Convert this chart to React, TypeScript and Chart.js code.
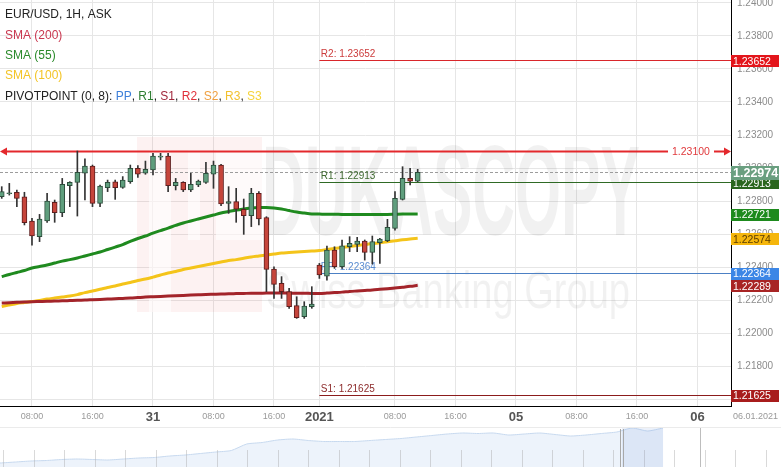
import React, { useEffect, useRef } from 'react';
import { Chart, registerables } from 'chart.js';

Chart.register(...registerables);

const FONT = '"Liberation Sans", Arial, Helvetica, sans-serif';

// ---------- data ----------
const TITLE = 'EUR/USD, 1H, ASK';
const FIRST_SLOT = -20; // hourly slot of first candle (slot 0 = 31 Dec 00:00)

const OPEN = [
  1.22826, 1.22845, 1.22853, 1.22826, 1.22679, 1.22584, 1.22679, 1.22792, 1.22729, 1.22893,
  1.22913, 1.22968, 1.23012, 1.22786, 1.22881, 1.22917, 1.22883, 1.22917, 1.22998, 1.22968,
  1.22988, 1.23065, 1.23073, 1.22893, 1.22913, 1.22867, 1.22897, 1.22913, 1.22962, 1.23018,
  1.22786, 1.22796, 1.22750, 1.22711, 1.22847, 1.22699, 1.22388, 1.22301, 1.22251, 1.22166,
  1.22099, 1.22160, 1.22412, 1.22345, 1.22503, 1.22402, 1.22523, 1.22537, 1.22558, 1.22489,
  1.22547, 1.22560, 1.22634, 1.22810, 1.22937, 1.22921,
];
const HIGH = [
  1.22887, 1.22907, 1.22867, 1.22853, 1.22695, 1.22719, 1.22846, 1.22806, 1.22937, 1.22917,
  1.23103, 1.23055, 1.23018, 1.22897, 1.22927, 1.22927, 1.22948, 1.23018, 1.23014, 1.23042,
  1.23089, 1.23089, 1.23089, 1.22937, 1.22917, 1.22968, 1.22927, 1.23034, 1.23042, 1.23022,
  1.22887, 1.22877, 1.22812, 1.22877, 1.22857, 1.22705, 1.22402, 1.22342, 1.22271, 1.22220,
  1.22190, 1.22281, 1.22422, 1.22527, 1.22523, 1.22564, 1.22584, 1.22580, 1.22564, 1.22588,
  1.22574, 1.22689, 1.22857, 1.23008, 1.22998, 1.22992,
];
const LOW = [
  1.22816, 1.22836, 1.22766, 1.22655, 1.22533, 1.22554, 1.22671, 1.22671, 1.22705, 1.22766,
  1.22709, 1.22806, 1.22766, 1.22766, 1.22857, 1.22810, 1.22877, 1.22907, 1.22943, 1.22962,
  1.22958, 1.23049, 1.22857, 1.22867, 1.22857, 1.22857, 1.22887, 1.22907, 1.22877, 1.22772,
  1.22725, 1.22671, 1.22598, 1.22645, 1.22655, 1.22251, 1.22210, 1.22210, 1.22150, 1.22089,
  1.22089, 1.22150, 1.22331, 1.22321, 1.22392, 1.22392, 1.22493, 1.22493, 1.22442, 1.22418,
  1.22422, 1.22554, 1.22624, 1.22806, 1.22897, 1.22917,
];
const CLOSE = [
  1.22857, 1.22849, 1.22816, 1.22669, 1.22588, 1.22691, 1.22800, 1.22729, 1.22901, 1.22913,
  1.22974, 1.23012, 1.22786, 1.22891, 1.22913, 1.22881, 1.22927, 1.22998, 1.22962, 1.22992,
  1.23073, 1.23073, 1.22893, 1.22913, 1.22867, 1.22901, 1.22921, 1.22968, 1.23018, 1.22782,
  1.22796, 1.22750, 1.22711, 1.22847, 1.22691, 1.22386, 1.22295, 1.22251, 1.22160, 1.22093,
  1.22164, 1.22176, 1.22352, 1.22503, 1.22402, 1.22529, 1.22543, 1.22558, 1.22489, 1.22554,
  1.22570, 1.22641, 1.22816, 1.22937, 1.22921, 1.22974,
];

const SMA55 = [
  1.22342, 1.22355, 1.22367, 1.22379, 1.22394, 1.22403, 1.22412, 1.22424, 1.22436, 1.22445,
  1.22455, 1.22467, 1.22479, 1.22491, 1.22506, 1.22521, 1.22536, 1.22555, 1.22573, 1.22588,
  1.22606, 1.22621, 1.22636, 1.22652, 1.22667, 1.22679, 1.22691, 1.22703, 1.22715, 1.22727,
  1.22736, 1.22745, 1.22752, 1.22758, 1.22760, 1.22760, 1.22758, 1.22752, 1.22742, 1.22733,
  1.22727, 1.22722, 1.22721, 1.22720, 1.22720, 1.22719, 1.22719, 1.22718, 1.22718, 1.22718,
  1.22719, 1.22719, 1.22720, 1.22721, 1.22721, 1.22721,
];
const SMA100 = [
  1.22161, 1.22170, 1.22179, 1.22185, 1.22191, 1.22197, 1.22206, 1.22212, 1.22218, 1.22224,
  1.22233, 1.22245, 1.22255, 1.22265, 1.22276, 1.22285, 1.22297, 1.22306, 1.22318, 1.22327,
  1.22339, 1.22352, 1.22364, 1.22373, 1.22385, 1.22394, 1.22403, 1.22412, 1.22421, 1.22430,
  1.22439, 1.22445, 1.22453, 1.22461, 1.22467, 1.22473, 1.22479, 1.22485, 1.22488, 1.22491,
  1.22494, 1.22497, 1.22500, 1.22506, 1.22512, 1.22518, 1.22524, 1.22530, 1.22536, 1.22542,
  1.22547, 1.22553, 1.22559, 1.22565, 1.22570, 1.22574,
];
const SMA200 = [
  1.22182, 1.22184, 1.22186, 1.22188, 1.22190, 1.22191, 1.22192, 1.22194, 1.22195, 1.22197,
  1.22199, 1.22200, 1.22202, 1.22204, 1.22206, 1.22208, 1.22210, 1.22212, 1.22215, 1.22218,
  1.22220, 1.22222, 1.22224, 1.22226, 1.22228, 1.22230, 1.22232, 1.22234, 1.22235, 1.22236,
  1.22238, 1.22239, 1.22240, 1.22241, 1.22241, 1.22242, 1.22242, 1.22242, 1.22242, 1.22241,
  1.22241, 1.22240, 1.22240, 1.22242, 1.22245, 1.22248, 1.22252, 1.22255, 1.22258, 1.22261,
  1.22265, 1.22269, 1.22273, 1.22278, 1.22283, 1.22289,
];

const PIVOT_NAMES = ['R2', 'R1', 'PP', 'S1'];
const PIVOT_VALUES = [1.23652, 1.22913, 1.22364, 1.21625];
const PIVOT_START_SLOT = 22;
const ALERT_LEVEL = 1.231;

const X_TICK_SLOTS = [-16, -8, 0, 8, 16, 22, 32, 40, 48, 56, 64, 72];
const X_TICK_LABELS = ['08:00', '16:00', '31', '08:00', '16:00', '2021', '08:00', '16:00', '05', '08:00', '16:00', '06'];
const Y_TICKS = [1.216, 1.218, 1.22, 1.222, 1.224, 1.226, 1.228, 1.23, 1.232, 1.234, 1.236, 1.238, 1.24];
const LAST_DATE_LABEL = '06.01.2021';

const NAV_PRICES = [
  1.1940, 1.1950, 1.1960, 1.1965, 1.1975, 1.1980, 1.1975, 1.1970, 1.1980, 1.1990,
  1.1995, 1.2010, 1.2020, 1.2035, 1.2050, 1.2065, 1.2130, 1.2145, 1.2170, 1.2180,
  1.2165, 1.2155, 1.2155, 1.2155, 1.2165, 1.2175, 1.2185, 1.2200, 1.2215, 1.2230,
  1.2240, 1.2235, 1.2240, 1.2220, 1.2230, 1.2240, 1.2225, 1.2210, 1.2220, 1.2235,
  1.2250, 1.2290, 1.2260, 1.2290,
];
const NAV_WINDOW = [40.34, 43];

// ---------- styling ----------
const X_MIN = -20.23;
const X_MAX = 76.43;
const Y_MIN = 1.21558;
const Y_MAX = 1.24018;
const NAV_X_MAX = 50.65;

const UP_FILL = '#5f9e7d';
const UP_EDGE = '#2d4d3c';
const DN_FILL = '#c6453b';
const DN_EDGE = '#5e1e1e';
const C_SMA200 = '#a3242a';
const C_SMA55 = '#1f8a1f';
const C_SMA100 = '#f4c41a';
const PIVOT_LINE = ['#d9262b', '#2f6a25', '#4c80c4', '#8c1c1c'];
const PIVOT_TEXT = ['#cc3b3b', '#3f6a30', '#5a8cd0', '#8c2a2a'];

function buildMain(canvas: HTMLCanvasElement) {
  const slots = OPEN.map((_, k) => FIRST_SLOT + k);
  const up = CLOSE.map((c, k) => c >= OPEN[k]);
  const bodies = slots.map((s, k) => ({ x: s, y: [OPEN[k], CLOSE[k]] }));
  const wicks = slots.map((s, k) => ({ x: s, y: [LOW[k], HIGH[k]] }));
  const line = (arr: number[]) => slots.map((s, k) => ({ x: s, y: arr[k] }));
  const lastClose = CLOSE[CLOSE.length - 1];

  const overlay = {
    id: 'dukaOverlay',
    beforeDatasetsDraw(chart: any) {
      const { ctx, chartArea: a } = chart;
      const xs = chart.scales.x;
      const ys = chart.scales.y;
      ctx.save();
      ctx.beginPath();
      ctx.rect(a.left, a.top, a.right - a.left, a.bottom - a.top);
      ctx.clip();

      // watermark
      ctx.fillStyle = 'rgba(225,70,70,0.07)';
      ctx.fillRect(137, 137, 125, 175);
      ctx.fillStyle = 'rgba(255,255,255,0.6)';
      ctx.fillRect(149, 150, 22, 162);
      ctx.fillRect(188, 150, 12, 90);
      ctx.fillRect(216, 150, 46, 90);
      ctx.fillStyle = 'rgba(0,0,0,0.055)';
      ctx.textAlign = 'left';
      ctx.textBaseline = 'alphabetic';
      ctx.font = `bold 128px ${FONT}`;
      ctx.fillText('DUKASCOPY', 262, 235, 378);
      ctx.font = `52px ${FONT}`;
      ctx.fillText('Swiss Banking Group', 266, 308, 364);

      // current price dashed line
      const py = Math.round(ys.getPixelForValue(lastClose)) + 0.5;
      ctx.strokeStyle = '#9c9c9c';
      ctx.lineWidth = 1;
      ctx.setLineDash([3, 2]);
      ctx.beginPath();
      ctx.moveTo(a.left, py);
      ctx.lineTo(a.right, py);
      ctx.stroke();
      ctx.setLineDash([]);

      // pivot lines
      const px0 = xs.getPixelForValue(PIVOT_START_SLOT);
      ctx.font = `10px ${FONT}`;
      ctx.textBaseline = 'bottom';
      PIVOT_VALUES.forEach((v, k) => {
        const yy = Math.round(ys.getPixelForValue(v)) + 0.5;
        ctx.strokeStyle = PIVOT_LINE[k];
        ctx.lineWidth = 1;
        ctx.beginPath();
        ctx.moveTo(px0, yy);
        ctx.lineTo(a.right, yy);
        ctx.stroke();
        ctx.fillStyle = PIVOT_TEXT[k];
        ctx.fillText(`${PIVOT_NAMES[k]}: ${v.toFixed(5)}`, px0 + 1.5, yy - 1);
      });

      // alert level line with arrows
      const ay = ys.getPixelForValue(ALERT_LEVEL);
      ctx.strokeStyle = '#e3282c';
      ctx.fillStyle = '#e3282c';
      ctx.lineWidth = 2;
      ctx.beginPath();
      ctx.moveTo(a.left + 5, ay);
      ctx.lineTo(668, ay);
      ctx.moveTo(714, ay);
      ctx.lineTo(a.right - 5, ay);
      ctx.stroke();
      ctx.beginPath();
      ctx.moveTo(a.left, ay);
      ctx.lineTo(a.left + 7, ay - 4);
      ctx.lineTo(a.left + 7, ay + 4);
      ctx.closePath();
      ctx.fill();
      ctx.beginPath();
      ctx.moveTo(a.right, ay);
      ctx.lineTo(a.right - 7, ay - 4);
      ctx.lineTo(a.right - 7, ay + 4);
      ctx.closePath();
      ctx.fill();
      ctx.font = `10.5px ${FONT}`;
      ctx.textBaseline = 'middle';
      ctx.fillStyle = '#e0393c';
      ctx.fillText(ALERT_LEVEL.toFixed(5), 672, ay + 0.5);
      ctx.restore();
    },
    afterDraw(chart: any) {
      const { ctx, chartArea: a } = chart;
      const ys = chart.scales.y;
      ctx.save();
      // legend
      ctx.textAlign = 'left';
      ctx.textBaseline = 'middle';
      ctx.font = `12px ${FONT}`;
      ctx.fillStyle = '#222';
      ctx.fillText(TITLE, 5, 15);
      ctx.fillStyle = '#c9374f';
      ctx.fillText('SMA (200)', 5, 36);
      ctx.fillStyle = '#2a8a2a';
      ctx.fillText('SMA (55)', 5, 56);
      ctx.fillStyle = '#f3c425';
      ctx.fillText('SMA (100)', 5, 76);
      const segs: [string, string][] = [
        ['PIVOTPOINT (0, 8): ', '#222'], ['PP', '#3d7fd9'], [', ', '#222'],
        ['R1', '#2e7d32'], [', ', '#222'], ['S1', '#a0283c'], [', ', '#222'],
        ['R2', '#e0303a'], [', ', '#222'], ['S2', '#f0a040'], [', ', '#222'],
        ['R3', '#f2c12e'], [', ', '#222'], ['S3', '#f5d33a'],
      ];
      let xx = 5;
      segs.forEach(([t, c]) => {
        ctx.fillStyle = c;
        ctx.fillText(t, xx, 97);
        xx += ctx.measureText(t).width;
      });

      // right axis value boxes
      const boxes = [
        { v: PIVOT_VALUES[0], bg: '#e3151b', fg: '#fff' },
        { v: PIVOT_VALUES[1], bg: '#2a661d', fg: '#fff' },
        { v: SMA55[SMA55.length - 1], bg: '#1d8a1d', fg: '#fff' },
        { v: SMA100[SMA100.length - 1], bg: '#f5b60c', fg: '#5a3c00' },
        { v: PIVOT_VALUES[2], bg: '#3b86e6', fg: '#fff' },
        { v: SMA200[SMA200.length - 1], bg: '#a82424', fg: '#fff' },
        { v: PIVOT_VALUES[3], bg: '#a81c1c', fg: '#fff' },
        { v: lastClose, bg: '#6a9f80', fg: '#fff', big: true },
      ];
      boxes.forEach((b: any) => {
        const yy = ys.getPixelForValue(b.v) + 1;
        const h = b.big ? 14 : 12;
        ctx.fillStyle = b.bg;
        ctx.fillRect(a.right, Math.round(yy - h / 2), 48, h);
        ctx.fillStyle = b.fg;
        ctx.font = b.big ? `bold 12.5px ${FONT}` : `10.5px ${FONT}`;
        ctx.fillText(b.v.toFixed(5), a.right + 2, yy + 0.5);
      });

      // last date
      ctx.fillStyle = '#999';
      ctx.font = `9px ${FONT}`;
      ctx.fillText(LAST_DATE_LABEL, a.right + 2, 417);
      ctx.restore();
    },
  };

  return new Chart(canvas, {
    type: 'bar',
    data: {
      datasets: [
        {
          type: 'bar',
          data: bodies as any,
          backgroundColor: up.map((u) => (u ? UP_FILL : DN_FILL)),
          borderColor: up.map((u) => (u ? UP_EDGE : DN_EDGE)),
          borderWidth: 1,
          borderSkipped: false,
          barThickness: 5,
          grouped: false,
          order: 0,
        } as any,
        {
          type: 'bar',
          data: wicks as any,
          backgroundColor: '#333333',
          borderWidth: 0,
          barThickness: 1,
          grouped: false,
          order: 1,
        } as any,
        {
          type: 'line',
          data: line(SMA200) as any,
          borderColor: C_SMA200,
          borderWidth: 3,
          pointRadius: 0,
          cubicInterpolationMode: 'monotone',
          order: 2,
        } as any,
        {
          type: 'line',
          data: line(SMA100) as any,
          borderColor: C_SMA100,
          borderWidth: 3,
          pointRadius: 0,
          cubicInterpolationMode: 'monotone',
          order: 2,
        } as any,
        {
          type: 'line',
          data: line(SMA55) as any,
          borderColor: C_SMA55,
          borderWidth: 3,
          pointRadius: 0,
          cubicInterpolationMode: 'monotone',
          order: 2,
        } as any,
      ],
    },
    options: {
      animation: false,
      responsive: false,
      devicePixelRatio: 1,
      layout: { padding: 0 },
      plugins: { legend: { display: false }, tooltip: { enabled: false } },
      scales: {
        x: {
          type: 'linear',
          min: X_MIN,
          max: X_MAX,
          offset: false,
          grid: { color: '#e6e6e6', drawTicks: false, offset: false },
          border: { color: '#000', width: 1 },
          ticks: {
            autoSkip: false,
            maxRotation: 0,
            padding: 3,
            callback: (_v: any, i: number) => X_TICK_LABELS[i],
            color: (c: any) => (X_TICK_LABELS[c.index] || '').includes(':') ? '#9a9a9a' : '#555',
            font: (c: any) => {
              const t = X_TICK_LABELS[c.index] || '';
              const day = !t.includes(':');
              return { family: FONT, size: day ? 13 : 9, weight: day ? 'bold' : 'normal', lineHeight: '16px' };
            },
          },
          afterBuildTicks: (s: any) => {
            s.ticks = X_TICK_SLOTS.map((v) => ({ value: v }));
          },
          afterFit: (s: any) => {
            s.height = 21;
            s.paddingLeft = 0;
            s.paddingRight = 0;
          },
        } as any,
        y: {
          type: 'linear',
          position: 'right',
          min: Y_MIN,
          max: Y_MAX,
          grid: { color: '#e6e6e6', drawTicks: false },
          border: { color: '#000', width: 1 },
          ticks: {
            padding: 6,
            color: '#8c8c8c',
            font: { family: FONT, size: 10 },
            callback: (v: any) => Number(v).toFixed(5),
          },
          afterBuildTicks: (s: any) => {
            s.ticks = Y_TICKS.map((v) => ({ value: v }));
          },
          afterFit: (s: any) => {
            s.width = 50;
            s.paddingTop = 0;
            s.paddingBottom = 0;
          },
        } as any,
      },
    },
    plugins: [overlay],
  } as any);
}

function buildNav(canvas: HTMLCanvasElement) {
  const pts = NAV_PRICES.map((p, k) => ({ x: k, y: p }));
  const navPlugin = {
    id: 'navDecor',
    afterDatasetsDraw(chart: any) {
      const { ctx, chartArea: a } = chart;
      const xs = chart.scales.x;
      ctx.save();
      ctx.strokeStyle = '#ebebeb';
      ctx.lineWidth = 1;
      ctx.beginPath();
      ctx.moveTo(0, 0.5);
      ctx.lineTo(a.right, 0.5);
      ctx.stroke();
      ctx.strokeStyle = 'rgba(170,170,170,0.45)';
      for (let px = 3; px < a.right; px += 30.5) {
        const xp = Math.round(px) + 0.5;
        ctx.beginPath();
        ctx.moveTo(xp, a.bottom - 17);
        ctx.lineTo(xp, a.bottom);
        ctx.stroke();
      }
      const x0 = xs.getPixelForValue(NAV_WINDOW[0]);
      const x1 = xs.getPixelForValue(NAV_WINDOW[1]);
      ctx.fillStyle = 'rgba(110,150,215,0.13)';
      ctx.fillRect(x0, 1, x1 - x0, a.bottom - 1);
      ctx.strokeStyle = '#a8a8a8';
      [x0 - 2, x0 + 1].forEach((p) => {
        ctx.beginPath();
        ctx.moveTo(Math.round(p) + 0.5, 2);
        ctx.lineTo(Math.round(p) + 0.5, a.bottom);
        ctx.stroke();
      });
      ctx.strokeStyle = '#bdbdbd';
      ctx.beginPath();
      ctx.moveTo(700.5, 1);
      ctx.lineTo(700.5, a.bottom);
      ctx.stroke();
      ctx.restore();
    },
  };
  return new Chart(canvas, {
    type: 'line',
    data: {
      datasets: [
        {
          data: pts as any,
          borderColor: '#c7d9ef',
          borderWidth: 1,
          backgroundColor: '#edf3fb',
          fill: 'start',
          pointRadius: 0,
          tension: 0.2,
        },
      ],
    },
    options: {
      animation: false,
      responsive: false,
      devicePixelRatio: 1,
      layout: { padding: 0 },
      plugins: { legend: { display: false }, tooltip: { enabled: false } },
      scales: {
        x: { type: 'linear', min: 0, max: NAV_X_MAX, display: false },
        y: { min: 1.19, max: 1.23, display: false },
      },
    },
    plugins: [navPlugin],
  } as any);
}

export default function App() {
  const mainRef = useRef<HTMLCanvasElement>(null);
  const navRef = useRef<HTMLCanvasElement>(null);
  useEffect(() => {
    Chart.defaults.font.family = FONT;
    const main = buildMain(mainRef.current as HTMLCanvasElement);
    const nav = buildNav(navRef.current as HTMLCanvasElement);
    return () => {
      main.destroy();
      nav.destroy();
    };
  }, []);
  return (
    <div style={{ position: 'absolute', left: 0, top: 0, width: 781, height: 467, background: '#fff', overflow: 'hidden' }}>
      <canvas ref={mainRef} width={781} height={427} style={{ display: 'block' }} />
      <canvas ref={navRef} width={781} height={40} style={{ display: 'block' }} />
    </div>
  );
}
